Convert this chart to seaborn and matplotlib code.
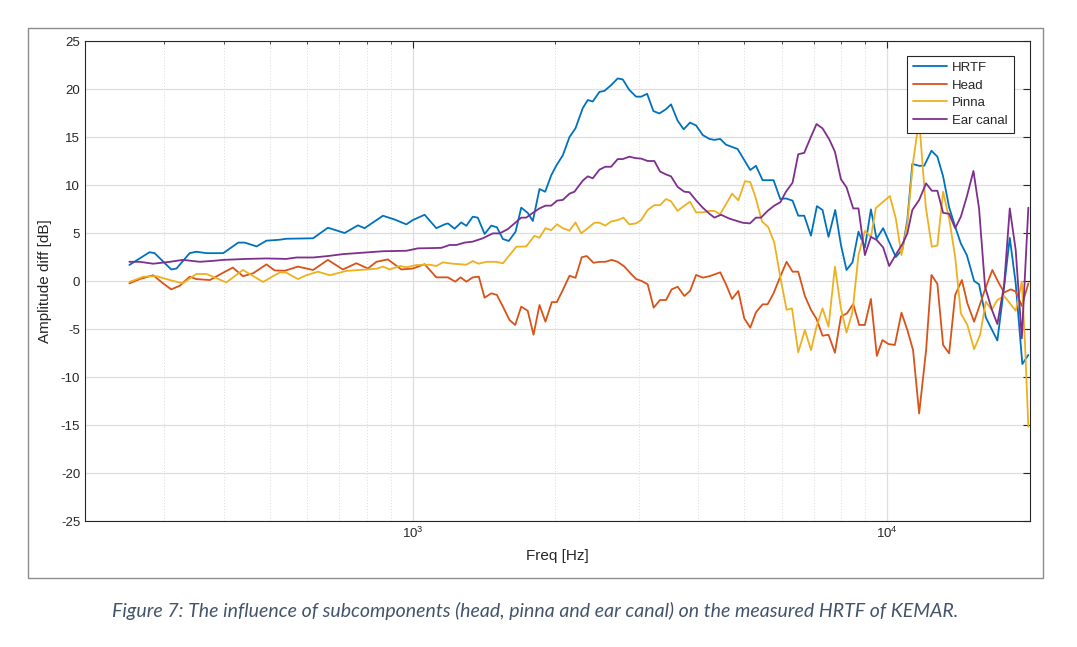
import pandas as pd
import matplotlib as mpl
import matplotlib.pyplot as plt
import matplotlib.patches as mpatches
from matplotlib.ticker import LogLocator, NullFormatter
import seaborn as sns

# series (frequency in Hz, amplitude difference in dB)
hrtf_freq = [253, 279, 286, 310, 318, 339, 350, 368, 399, 429,
             443, 469, 492, 525, 542, 617, 663, 719, 767, 792,
             866, 917, 970, 1001, 1060, 1122, 1168, 1187, 1226, 1266,
             1298, 1339, 1372, 1418, 1465, 1505, 1550, 1595, 1648, 1694,
             1748, 1792, 1851, 1903, 1959, 2007, 2073, 2141, 2204, 2283,
             2339, 2397, 2476, 2536, 2620, 2705, 2772, 2862, 2958, 3031,
             3120, 3217, 3311, 3420, 3504, 3618, 3726, 3842, 3957, 4087,
             4222, 4326, 4450, 4575, 4840, 4999, 5147, 5291, 5465, 5763,
             5953, 6120, 6319, 6496, 6688, 6909, 7112, 7308, 7524, 7773,
             7991, 8211, 8453, 8701, 8975, 9242, 9500, 9808, 10132, 10430,
             10770, 11030, 11300, 11680, 11970, 12400, 12760, 13120, 13510, 13910,
             14300, 14720, 15250, 15620, 16140, 17070, 17640, 18130, 18660, 19270,
             19840]
hrtf_db = [1.67, 3.0, 2.9, 1.2, 1.3, 2.9, 3.05, 2.9, 2.9, 4.0,
           4.0, 3.6, 4.2, 4.3, 4.4, 4.45, 5.55, 5.0, 5.8, 5.5,
           6.8, 6.4, 5.9, 6.35, 6.9, 5.5, 5.9, 6.0, 5.45, 6.1,
           5.75, 6.7, 6.6, 4.9, 5.77, 5.6, 4.37, 4.17, 5.14, 7.64,
           7.1, 6.25, 9.58, 9.3, 11.0, 12.0, 13.1, 15.0, 15.9, 18.0,
           18.85, 18.7, 19.7, 19.8, 20.4, 21.1, 21.0, 19.9, 19.2, 19.2,
           19.5, 17.7, 17.45, 17.9, 18.4, 16.7, 15.8, 16.5, 16.2, 15.2,
           14.8, 14.7, 14.8, 14.2, 13.75, 12.6, 11.56, 12.0, 10.5, 10.5,
           8.54, 8.6, 8.37, 6.8, 6.8, 4.72, 7.8, 7.4, 4.6, 7.4,
           3.75, 1.15, 1.95, 5.14, 3.47, 7.46, 4.4, 5.5, 3.9, 2.5,
           3.3, 6.35, 12.2, 12.0, 12.0, 13.57, 12.95, 10.9, 7.67, 5.66,
           3.9, 2.7, 0.0, -0.35, -3.8, -6.2, -0.6, 4.5, -0.25, -8.65,
           -7.7]

head_freq = [253, 266, 284, 298, 310, 323, 339, 350, 374, 399,
             418, 439, 461, 492, 512, 538, 573, 617, 663, 713,
             761, 805, 839, 887, 947, 1001, 1060, 1122, 1187, 1230,
             1262, 1298, 1339, 1379, 1418, 1465, 1505, 1550, 1600, 1645,
             1694, 1748, 1798, 1851, 1905, 1965, 2013, 2073, 2141, 2204,
             2272, 2328, 2405, 2484, 2548, 2628, 2705, 2795, 2887, 2958,
             3039, 3129, 3221, 3322, 3420, 3515, 3618, 3738, 3842, 3957,
             4087, 4222, 4450, 4575, 4711, 4857, 4999, 5147, 5291, 5465,
             5598, 5763, 5953, 6138, 6319, 6496, 6709, 6909, 7099, 7308,
             7524, 7762, 7991, 8228, 8482, 8731, 8975, 9242, 9513, 9775,
             10060, 10380, 10720, 11030, 11340, 11680, 12080, 12400, 12760, 13120,
             13510, 13910, 14370, 14760, 15250, 16080, 16660, 17130, 17640, 18220,
             18660, 19220, 19840]
head_db = [-0.25, 0.2, 0.6, -0.25, -0.87, -0.5, 0.45, 0.2, 0.1, 0.87,
           1.4, 0.5, 0.8, 1.73, 1.1, 1.07, 1.5, 1.15, 2.2, 1.2,
           1.85, 1.3, 2.0, 2.25, 1.2, 1.3, 1.75, 0.38, 0.38, -0.07,
           0.38, -0.07, 0.38, 0.45, -1.74, -1.28, -1.45, -2.67, -4.06, -4.58,
           -2.67, -3.1, -5.6, -2.5, -4.24, -2.2, -2.2, -0.94, 0.55, 0.33,
           2.47, 2.6, 1.9, 2.0, 2.0, 2.2, 2.0, 1.5, 0.73, 0.2,
           0.0, -0.35, -2.78, -1.98, -1.98, -0.87, -0.6, -1.56, -1.04, 0.63,
           0.35, 0.5, 0.9, -0.35, -1.87, -1.04, -3.9, -4.86, -3.26, -2.43,
           -2.43, -1.28, 0.45, 2.0, 0.97, 0.97, -1.56, -3.0, -3.96, -5.7,
           -5.6, -7.47, -3.7, -3.37, -2.4, -4.58, -4.58, -1.87, -7.8, -6.15,
           -6.56, -6.67, -3.3, -5.1, -7.2, -13.8, -7.2, 0.63, -0.3, -6.67,
           -7.53, -1.46, 0.1, -2.33, -4.24, -0.87, 1.15, -0.07, -1.2, -0.87,
           -1.1, -2.6, -0.25]

pinna_freq = [253, 271, 289, 308, 328, 350, 368, 405, 439, 484,
              525, 542, 573, 597, 632, 669, 725, 799, 839, 866,
              895, 939, 970, 1018, 1086, 1122, 1158, 1216, 1298, 1339,
              1377, 1430, 1501, 1550, 1654, 1735, 1806, 1851, 1905, 1959,
              2016, 2073, 2141, 2204, 2266, 2339, 2416, 2476, 2548, 2620,
              2705, 2782, 2862, 2958, 3031, 3129, 3232, 3322, 3420, 3504,
              3618, 3726, 3842, 3957, 4087, 4222, 4326, 4444, 4575, 4711,
              4857, 5017, 5147, 5273, 5449, 5618, 5783, 5953, 6138, 6301,
              6496, 6709, 6909, 7099, 7308, 7524, 7762, 7991, 8211, 8453,
              8701, 8975, 9242, 9467, 9808, 10132, 10430, 10720, 11030, 11340,
              11680, 12060, 12420, 12760, 13120, 13510, 13910, 14300, 14760, 15250,
              15700, 16140, 16610, 17070, 17640, 18660, 19220, 19520, 19840]
pinna_db = [-0.1, 0.45, 0.5, 0.1, -0.25, 0.73, 0.73, -0.15, 1.15, -0.1,
            0.9, 0.87, 0.2, 0.6, 0.97, 0.6, 1.05, 1.2, 1.28, 1.5,
            1.2, 1.56, 1.43, 1.66, 1.7, 1.56, 1.94, 1.8, 1.7, 2.08,
            1.8, 2.0, 2.0, 1.84, 3.57, 3.6, 4.7, 4.5, 5.5, 5.3,
            5.9, 5.5, 5.25, 6.1, 4.97, 5.5, 6.07, 6.07, 5.77, 6.2,
            6.35, 6.6, 5.9, 6.0, 6.35, 7.4, 7.9, 7.9, 8.54, 8.3,
            7.3, 7.8, 8.26, 7.15, 7.15, 7.3, 7.3, 6.95, 8.0, 9.1,
            8.4, 10.4, 10.3, 8.8, 6.2, 5.6, 4.0, 0.45, -3.0, -2.85,
            -7.43, -5.1, -7.2, -4.76, -2.85, -4.76, 1.5, -2.85, -5.38, -3.2,
            2.7, 5.2, 4.6, 7.6, 8.26, 8.85, 6.5, 2.7, 6.0, 12.4,
            16.8, 7.74, 3.57, 3.7, 9.3, 6.5, 2.5, -3.37, -4.58, -7.1,
            -5.6, -2.15, -3.0, -1.98, -1.56, -3.1, -0.07, -6.5, -15.2]

ear_freq = [253, 266, 284, 308, 328, 356, 380, 399, 447, 492,
            542, 569, 617, 663, 713, 786, 866, 970, 1026, 1149,
            1196, 1236, 1287, 1339, 1406, 1476, 1525, 1587, 1639, 1694,
            1735, 1792, 1851, 1905, 1959, 2016, 2073, 2141, 2193, 2247,
            2283, 2339, 2397, 2476, 2548, 2620, 2705, 2772, 2862, 2948,
            3031, 3129, 3232, 3322, 3420, 3504, 3618, 3738, 3830, 3957,
            4087, 4222, 4326, 4466, 4650, 4959, 5139, 5291, 5422, 5598,
            5783, 5953, 6120, 6319, 6496, 6688, 6909, 7099, 7308, 7550,
            7762, 7991, 8211, 8482, 8701, 8975, 9242, 9504, 9808, 10100,
            10445, 10770, 11030, 11300, 11680, 12080, 12420, 12760, 13120, 13510,
            13910, 14300, 14720, 15200, 15620, 16080, 16610, 17070, 17640, 18130,
            18660, 19220, 19840]
ear_db = [2.0, 2.0, 1.8, 2.0, 2.2, 2.0, 2.1, 2.2, 2.3, 2.35,
          2.3, 2.45, 2.45, 2.6, 2.8, 2.95, 3.1, 3.15, 3.4, 3.45,
          3.75, 3.75, 4.0, 4.1, 4.45, 4.96, 4.96, 5.4, 6.0, 6.6,
          6.6, 7.1, 7.56, 7.85, 7.85, 8.37, 8.45, 9.1, 9.3, 10.0,
          10.45, 10.9, 10.7, 11.6, 11.9, 11.9, 12.7, 12.7, 12.95, 12.8,
          12.75, 12.5, 12.5, 11.4, 11.1, 10.9, 9.8, 9.3, 9.25, 8.4,
          7.64, 7.0, 6.6, 6.9, 6.5, 6.07, 6.0, 6.6, 6.6, 7.3,
          7.85, 8.2, 9.3, 10.24, 13.2, 13.35, 15.03, 16.35, 15.9, 14.76,
          13.47, 10.6, 9.76, 7.56, 7.56, 2.7, 4.6, 4.27, 3.5, 1.56,
          2.8, 3.85, 4.96, 7.4, 8.44, 10.17, 9.4, 9.4, 7.1, 7.0,
          5.5, 6.7, 8.8, 11.46, 7.56, -0.6, -2.95, -4.48, -0.42, 7.56,
          3.23, -5.97, 7.64]

series_names = ["HRTF", "Head", "Pinna", "Ear canal"]
series_colors = ["#0072BD", "#D95319", "#EDB120", "#7E2F8E"]
y_ticks = list(range(-25, 26, 5))
caption = ("Figure 7: The influence of subcomponents (head, pinna and ear canal) "
           "on the measured HRTF of KEMAR.")

# long-form table for seaborn
frames = []
for name, f, a in zip(series_names,
                      [hrtf_freq, head_freq, pinna_freq, ear_freq],
                      [hrtf_db, head_db, pinna_db, ear_db]):
    frames.append(pd.DataFrame({"freq": f, "amp": a, "series": name}))
df = pd.concat(frames, ignore_index=True)

sns.set_theme(style="white")
mpl.rcParams.update({
    "font.family": ["Liberation Sans", "DejaVu Sans"],
    "axes.unicode_minus": False,
    "axes.edgecolor": "#262626",
    "xtick.color": "#262626",
    "ytick.color": "#262626",
    "text.color": "#262626",
    "axes.labelcolor": "#262626",
})

fig = plt.figure(figsize=(10.77, 6.47), dpi=100)
ax = fig.add_axes([85 / 1077, 1 - 521 / 647, 945 / 1077, 480 / 647])
ax.set_xscale("log")

sns.lineplot(data=df, x="freq", y="amp", hue="series", hue_order=series_names,
             palette=series_colors, estimator=None, linewidth=1.3, ax=ax)

ax.set_xlim(204, 20000)
ax.set_ylim(-25, 25)
ax.set_yticks(y_ticks)
ax.xaxis.set_minor_locator(LogLocator(base=10, subs=range(2, 10)))
ax.xaxis.set_minor_formatter(NullFormatter())

ax.grid(True, which="major", color="#dedede", linewidth=0.9)
ax.grid(True, which="minor", axis="x", color="#dadada", linestyle=(0, (1, 2)), linewidth=0.7)
ax.set_axisbelow(True)
for sp in ax.spines.values():
    sp.set_linewidth(0.8)
    sp.set_color("#262626")

ax.tick_params(which="both", direction="in", top=True, right=True, labelsize=9.5)
ax.tick_params(which="major", length=5, width=0.8)
ax.tick_params(which="minor", length=2.5, width=0.6)

ax.set_xlabel("Freq [Hz]", fontsize=11, labelpad=6)
ax.set_ylabel("Amplitude diff [dB]", fontsize=11, labelpad=6)

ax.legend(loc="upper right", bbox_to_anchor=(0.983, 0.969), borderaxespad=0,
          fontsize=9.5, frameon=True, fancybox=False, framealpha=1,
          edgecolor="#262626", handlelength=2.6, borderpad=0.45,
          labelspacing=0.4, handletextpad=0.4)
ax.get_legend().get_frame().set_linewidth(0.8)

# outer frame of the embedded figure
fig.patches.append(mpatches.Rectangle((28 / 1077, 1 - 578 / 647), 1015 / 1077, 550 / 647,
                                      transform=fig.transFigure, fill=False,
                                      edgecolor="#8c8c8c", linewidth=1.0))

fig.text(0.497, 1 - 611 / 647, caption, ha="center", va="center", fontsize=14,
         style="italic", color="#44546A", family=["Lato", "DejaVu Sans"])

fig.savefig("out.png", dpi=100)
